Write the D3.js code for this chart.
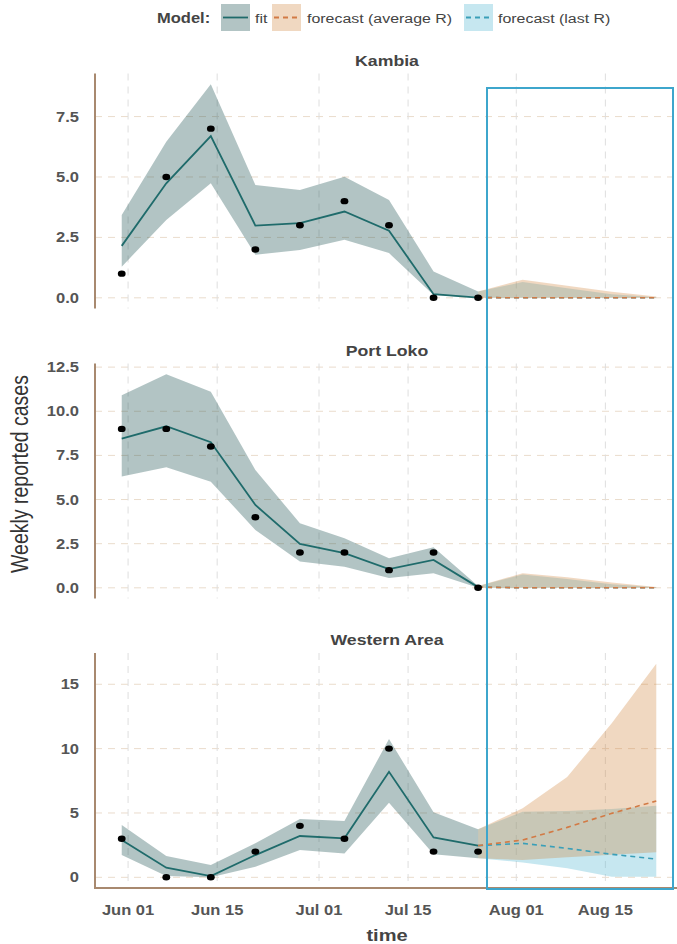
<!DOCTYPE html>
<meta charset="utf-8">
<style>
  body { margin: 0; background: #fff; }
  svg { font-family: "Liberation Sans", Arial, sans-serif; }
  .ytick, .xtick { font-size: 14px; font-weight: bold; fill: #555; }
  .title { font-size: 15px; font-weight: bold; fill: #444; text-anchor: middle; }
  .legend text { font-size: 13.5px; fill: #444; }
</style>
<svg width="677" height="944"></svg>
<script src="https://d3js.org/d3.v7.min.js"></script>
<script>

// ---- data ----
var weeks = ["2015-05-31", "2015-06-07", "2015-06-14", "2015-06-21", "2015-06-28",
             "2015-07-05", "2015-07-12", "2015-07-19", "2015-07-26"];
var forecastWeeks = ["2015-07-26", "2015-08-02", "2015-08-09", "2015-08-16", "2015-08-23"];
var xTicks = ["2015-06-01", "2015-06-15", "2015-07-01", "2015-07-15", "2015-08-01", "2015-08-15"];
var regions = ["Kambia", "Port Loko", "Western Area"];

var kambiaObs = [1, 5, 7, 2, 3, 4, 3, 0, 0];
var kambiaFit = [2.15, 4.74, 6.69, 2.99, 3.09, 3.57, 2.78, 0.15, 0.01];
var kambiaLo  = [1.29, 3.22, 4.74, 1.78, 1.98, 2.40, 1.85, 0.12, 0.0];
var kambiaHi  = [3.43, 6.46, 8.84, 4.67, 4.46, 5.01, 4.05, 1.09, 0.26];
var kambiaAvgMid  = [0.01, 0, 0, 0, 0];
var kambiaAvgLo   = [0, 0, 0, 0, 0];
var kambiaAvgHi   = [0.26, 0.75, 0.5, 0.25, 0.05];
var kambiaLastMid = [0.01, 0, 0, 0, 0];
var kambiaLastLo  = [0, 0, 0, 0, 0];
var kambiaLastHi  = [0.26, 0.65, 0.4, 0.15, 0.02];

var portLokoObs = [9, 9, 8, 4, 2, 2, 1, 2, 0];
var portLokoFit = [8.45, 9.15, 8.25, 4.69, 2.49, 1.96, 1.06, 1.58, 0.04];
var portLokoLo  = [6.3, 6.83, 6.01, 3.28, 1.49, 1.2, 0.55, 0.83, 0.0];
var portLokoHi  = [10.9, 12.1, 11.1, 6.67, 3.66, 2.81, 1.68, 2.3, 0.1];
var portLokoAvgMid  = [0.04, 0, 0, 0, 0];
var portLokoAvgLo   = [0, 0, 0, 0, 0];
var portLokoAvgHi   = [0.1, 0.83, 0.6, 0.3, 0.05];
var portLokoLastMid = [0.04, 0, 0, 0, 0];
var portLokoLastLo  = [0, 0, 0, 0, 0];
var portLokoLastHi  = [0.1, 0.75, 0.5, 0.2, 0.03];

var westernObs = [3, 0, 0, 2, 4, 3, 10, 2, 2];
var westernFit = [2.9, 0.75, 0.1, 1.73, 3.21, 3.03, 8.2, 3.1, 2.46];
var westernLo  = [1.73, 0.1, 0.0, 0.83, 2.12, 1.86, 5.8, 1.79, 1.48];
var westernHi  = [4.06, 1.65, 0.96, 2.64, 4.53, 4.37, 10.75, 5.05, 3.73];
var westernAvgMid  = [2.46, 2.9, 3.88, 4.97, 5.93];
var westernAvgLo   = [1.48, 1.35, 1.55, 1.75, 1.95];
var westernAvgHi   = [3.73, 5.36, 7.8, 11.97, 16.6];
var westernLastMid = [2.46, 2.64, 2.25, 1.79, 1.42];
var westernLastLo  = [1.48, 1.15, 0.7, 0.05, 0.05];
var westernLastHi  = [3.73, 5.1, 5.15, 5.3, 5.56];

var yTicks = [[0, 2.5, 5, 7.5], [0, 2.5, 5, 7.5, 10, 12.5], [0, 5, 10, 15]];
var yFormats = [".1f", ".1f", "d"];

// ---- layout ----
var svg = d3.select("svg"),
    left = 95, right = 683,
    panelH = 235,
    panelTops = [73.5, 363.5, 653],
    sx = 1.18;   // the picture is a little wider than tall, text included

function place(sel, fx, fy) {
  return sel.attr("transform", function(d, i) {
    return "translate(" + fx(d, i) + "," + fy(d, i) + ") scale(" + sx + ",1)";
  });
}
function k(v) { return function() { return v; }; }

var parse = d3.timeParse("%Y-%m-%d");
var dates = weeks.map(parse),
    fDates = forecastWeeks.map(parse);

var pad = 4.2 * 864e5;
var x = d3.scaleTime()
    .domain([+dates[0] - pad, +fDates[fDates.length - 1] + pad])
    .range([left, right]);

var colFit = "#235656", colFitLine = "#1f6b6b",
    colAvg = "#cd7f32", colAvgLine = "#d27a45",
    colLast = "#5bbad5", colLastLine = "#3a9fb8";

var series = [
  {obs: kambiaObs, fit: kambiaFit, lo: kambiaLo, hi: kambiaHi,
   avgMid: kambiaAvgMid, avgLo: kambiaAvgLo, avgHi: kambiaAvgHi,
   lastMid: kambiaLastMid, lastLo: kambiaLastLo, lastHi: kambiaLastHi},
  {obs: portLokoObs, fit: portLokoFit, lo: portLokoLo, hi: portLokoHi,
   avgMid: portLokoAvgMid, avgLo: portLokoAvgLo, avgHi: portLokoAvgHi,
   lastMid: portLokoLastMid, lastLo: portLokoLastLo, lastHi: portLokoLastHi},
  {obs: westernObs, fit: westernFit, lo: westernLo, hi: westernHi,
   avgMid: westernAvgMid, avgLo: westernAvgLo, avgHi: westernAvgHi,
   lastMid: westernLastMid, lastLo: westernLastLo, lastHi: westernLastHi}
];

series.forEach(function(s, i) {
  var top = panelTops[i], bottom = top + panelH;
  var all = [].concat(s.obs, s.lo, s.hi, s.avgLo, s.avgHi, s.lastLo, s.lastHi);
  var lo = d3.min(all), hi = d3.max(all), ex = (hi - lo) * 0.05;
  var y = d3.scaleLinear().domain([lo - ex, hi + ex]).range([bottom, top]);
  var g = svg.append("g");

  // grid
  g.selectAll(".hgrid").data(yTicks[i]).enter().append("line")
      .attr("x1", left).attr("x2", 677)
      .attr("y1", function(d) { return y(d); }).attr("y2", function(d) { return y(d); })
      .attr("stroke", "#eadccc").attr("stroke-dasharray", "7,6");
  g.selectAll(".vgrid").data(xTicks.map(parse)).enter().append("line")
      .attr("x1", function(d) { return x(d); }).attr("x2", function(d) { return x(d); })
      .attr("y1", top).attr("y2", bottom)
      .attr("stroke", "#dedede").attr("stroke-dasharray", "7,6");

  var fIdx = d3.range(fDates.length), idx = d3.range(dates.length);

  function band(loArr, hiArr, ds) {
    return d3.area()
      .x(function(j) { return x(ds[j]); })
      .y0(function(j) { return y(loArr[j]); })
      .y1(function(j) { return y(hiArr[j]); });
  }
  function line(arr, ds) {
    return d3.line()
      .x(function(j) { return x(ds[j]); })
      .y(function(j) { return y(arr[j]); });
  }

  g.append("path").attr("d", band(s.lastLo, s.lastHi, fDates)(fIdx))
      .attr("fill", colLast).attr("fill-opacity", 0.35);
  g.append("path").attr("d", band(s.avgLo, s.avgHi, fDates)(fIdx))
      .attr("fill", colAvg).attr("fill-opacity", 0.3);
  g.append("path").attr("d", band(s.lo, s.hi, dates)(idx))
      .attr("fill", colFit).attr("fill-opacity", 0.35);

  g.append("path").attr("d", line(s.fit, dates)(idx))
      .attr("fill", "none").attr("stroke", colFitLine).attr("stroke-width", 1.8);
  g.append("path").attr("d", line(s.lastMid, fDates)(fIdx))
      .attr("fill", "none").attr("stroke", colLastLine).attr("stroke-width", 1.6)
      .attr("stroke-dasharray", "5,4");
  g.append("path").attr("d", line(s.avgMid, fDates)(fIdx))
      .attr("fill", "none").attr("stroke", colAvgLine).attr("stroke-width", 1.6)
      .attr("stroke-dasharray", "5,4");

  g.selectAll(".pt").data(idx).enter().append("ellipse")
      .attr("cx", function(j) { return x(dates[j]); })
      .attr("cy", function(j) { return y(s.obs[j]); })
      .attr("rx", 3.9).attr("ry", 3.2).attr("fill", "#000");

  // axis
  g.append("line").attr("x1", left).attr("x2", left).attr("y1", top).attr("y2", bottom)
      .attr("stroke", "#a8896f").attr("stroke-width", 2);
  var fmt = d3.format(yFormats[i]);
  place(g.selectAll(".ytick").data(yTicks[i]).enter().append("text")
      .attr("class", "ytick")
      .attr("dy", "0.36em").attr("text-anchor", "end")
      .text(function(d) { return fmt(d); }),
      k(79), function(d) { return y(d); });

  place(g.append("text").attr("class", "title").text(regions[i]),
      k(387), k(top - 8));

  if (i === series.length - 1) {
    g.append("line").attr("x1", left - 1).attr("x2", 677).attr("y1", bottom).attr("y2", bottom)
        .attr("stroke", "#a8896f").attr("stroke-width", 2);
    place(g.selectAll(".xtick").data(xTicks.map(parse)).enter().append("text")
        .attr("class", "xtick")
        .attr("text-anchor", "middle")
        .text(d3.timeFormat("%b %d")),
        function(d) { return x(d); }, k(bottom + 27));
  }
});

// axis titles
svg.append("text")
    .attr("transform", "translate(28,474) scale(" + sx + ",1) rotate(-90)")
    .attr("text-anchor", "middle")
    .style("font-size", "19.5px").style("fill", "#333")
    .text("Weekly reported cases");
place(svg.append("text")
    .attr("text-anchor", "middle")
    .style("font-size", "17px").style("font-weight", "bold").style("fill", "#444")
    .text("time"), k(387), k(941));

// legend
var legend = svg.append("g").attr("class", "legend");
place(legend.append("text").style("font-weight", "bold").style("font-size", "14px")
    .text("Model:"), k(157), k(23));
var keys = [
  {label: "fit", fill: colFit, op: 0.35, stroke: colFitLine, dash: null, kx: 221, tx: 255},
  {label: "forecast (average R)", fill: colAvg, op: 0.3, stroke: colAvgLine, dash: "5,4", kx: 272, tx: 307},
  {label: "forecast (last R)", fill: colLast, op: 0.35, stroke: colLastLine, dash: "5,4", kx: 464, tx: 498}
];
keys.forEach(function(d) {
  legend.append("rect").attr("x", d.kx).attr("y", 4).attr("width", 29).attr("height", 27)
      .attr("fill", d.fill).attr("fill-opacity", d.op);
  legend.append("line").attr("x1", d.kx + 2).attr("x2", d.kx + 27).attr("y1", 17.5).attr("y2", 17.5)
      .attr("stroke", d.stroke).attr("stroke-width", 1.8)
      .attr("stroke-dasharray", d.dash);
  place(legend.append("text").text(d.label), k(d.tx), k(23));
});

// highlight box around the forecast window
svg.append("rect")
    .attr("x", 487).attr("y", 88).attr("width", 186).attr("height", 801)
    .attr("fill", "none").attr("stroke", "#3ea6cc").attr("stroke-width", 2);

</script>
